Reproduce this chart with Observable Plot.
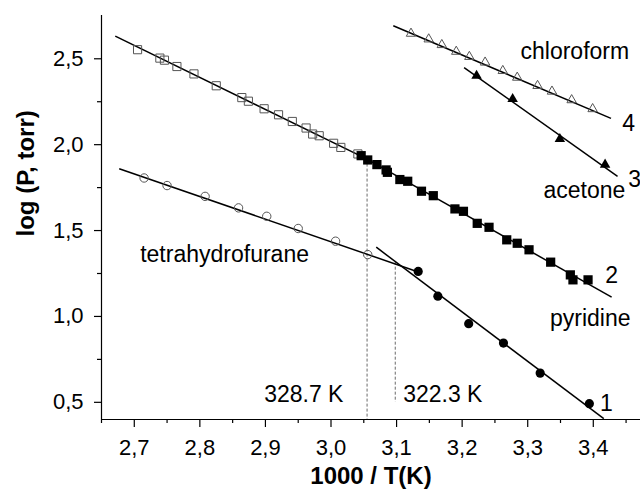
<!DOCTYPE html>
<html><head><meta charset="utf-8">
<script src="https://cdn.jsdelivr.net/npm/d3@7"></script>
<script src="https://cdn.jsdelivr.net/npm/@observablehq/plot@0.6"></script>
<style>body{margin:0;background:#fff} svg{display:block}</style>
</head><body><div id="chart"></div>
<script>
// 2 – pyridine, open squares (above break) and filled squares (below break)
const pyridineOpenX = [2.705, 2.739, 2.746, 2.765, 2.791, 2.825, 2.864, 2.874, 2.898, 2.920, 2.941, 2.962, 2.972, 2.982, 3.004, 3.015, 3.041];
const pyridineOpenY = [2.553, 2.504, 2.492, 2.455, 2.412, 2.343, 2.274, 2.253, 2.209, 2.174, 2.135, 2.097, 2.062, 2.052, 2.008, 1.984, 1.946];
const pyridineFilledX = [3.046, 3.056, 3.070, 3.084, 3.086, 3.105, 3.117, 3.138, 3.156, 3.189, 3.202, 3.223, 3.241, 3.268, 3.284, 3.302, 3.335, 3.365, 3.369, 3.392];
const pyridineFilledY = [1.936, 1.911, 1.884, 1.853, 1.839, 1.797, 1.787, 1.729, 1.703, 1.626, 1.612, 1.542, 1.519, 1.446, 1.426, 1.388, 1.316, 1.242, 1.213, 1.213];
// 1 – tetrahydrofurane
const thfOpenX = [2.715, 2.750, 2.808, 2.859, 2.902, 2.950, 3.007, 3.056];
const thfOpenY = [1.806, 1.762, 1.699, 1.632, 1.583, 1.512, 1.438, 1.360];
const thfFilledX = [3.133, 3.163, 3.210, 3.263, 3.319, 3.394];
const thfFilledY = [1.262, 1.118, 0.958, 0.845, 0.670, 0.492];
// 4 – chloroform
const chloroformX = [3.122, 3.149, 3.169, 3.191, 3.211, 3.235, 3.262, 3.284, 3.315, 3.337, 3.367, 3.399];
const chloroformY = [2.647, 2.614, 2.581, 2.542, 2.512, 2.479, 2.430, 2.391, 2.343, 2.310, 2.260, 2.208];
// 3 – acetone
const acetoneX = [3.222, 3.277, 3.349, 3.418];
const acetoneY = [2.401, 2.266, 2.033, 1.884];

// fitted straight lines (start x, start y, end x, end y)
const fitX1 = [2.671, 3.055, 2.677, 3.069, 3.095, 3.203];
const fitY1 = [2.632, 1.916, 1.860, 1.403, 2.692, 2.449];
const fitX2 = [3.055, 3.428, 3.131, 3.416, 3.427, 3.437];
const fitY2 = [1.916, 1.112, 1.262, 0.405, 2.153, 1.816];

// break temperatures (1000/T) and dashed guide extents
const breakX = [3.055, 3.098];
const breakTop = [1.916, 1.316];
const breakBottom = [0.40, 0.50];

// tick values
const xMajor = [2.7, 2.8, 2.9, 3.0, 3.1, 3.2, 3.3, 3.4];
const xMinor = [2.65, 2.75, 2.85, 2.95, 3.05, 3.15, 3.25, 3.35, 3.45];
const yMajor = [0.5, 1.0, 1.5, 2.0, 2.5];
const yMinor = [0.75, 1.25, 1.75, 2.25];

// annotation texts
const labelText = ["chloroform", "acetone", "pyridine", "tetrahydrofurane", "322.3 K", "328.7 K", "4", "3", "2", "1"];
const labelX = [3.289, 3.324, 3.334, 2.709, 3.110, 3.019, 3.454, 3.463, 3.428, 3.420];
const labelY = [2.542, 1.733, 0.987, 1.360, 0.545, 0.545, 2.122, 1.797, 1.238, 0.494];
const labelAnchor = ["start", "start", "start", "start", "start", "end", "middle", "middle", "middle", "middle"];

const zip = (xs, ys) => xs.map((x, i) => ({x, y: ys[i]}));
const fits = fitX1.map((x1, i) => ({x1, y1: fitY1[i], x2: fitX2[i], y2: fitY2[i]}));
const breaks = breakX.map((x, i) => ({x, y1: breakTop[i], y2: breakBottom[i]}));
const labels = labelText.map((t, i) => ({t, x: labelX[i], y: labelY[i], a: labelAnchor[i]}));
const comma = d => d.toFixed(1).replace(".", ",");

const font = "'Liberation Sans', Arial, Helvetica, sans-serif";

const chart = Plot.plot({
  width: 640, height: 497,
  marginLeft: 101, marginRight: 0, marginTop: 15, marginBottom: 78,
  style: {fontFamily: font, background: "white", color: "black"},
  x: {domain: [2.65, 3.472]},
  y: {domain: [0.40, 2.752]},
  marks: [
    Plot.ruleY([0.40], {stroke: "black", strokeWidth: 1.2}),
    Plot.ruleX([2.65], {stroke: "black", strokeWidth: 1.2}),
    Plot.axisX({ticks: xMajor, tickSize: 8, tickFormat: () => "", label: null, strokeWidth: 1.2}),
    Plot.axisX({ticks: xMinor, tickSize: 4, tickFormat: () => "", label: null, strokeWidth: 1.2}),
    Plot.axisY({ticks: yMajor, tickSize: 7, tickFormat: () => "", label: null, strokeWidth: 1.2}),
    Plot.axisY({ticks: yMinor, tickSize: 4, tickFormat: () => "", label: null, strokeWidth: 1.2}),
    Plot.text(xMajor, {x: d => d, frameAnchor: "bottom", lineAnchor: "top", dy: 20, text: comma, fontSize: 22, fill: "black"}),
    Plot.text(yMajor, {y: d => d, frameAnchor: "left", textAnchor: "end", dx: -18, text: comma, fontSize: 22, fill: "black"}),
    Plot.ruleX(breaks, {x: "x", y1: "y1", y2: "y2", stroke: "#444", strokeWidth: 0.8, strokeDasharray: "3,2"}),
    Plot.link(fits, {x1: "x1", y1: "y1", x2: "x2", y2: "y2", stroke: "black", strokeWidth: 1.5}),
    Plot.dot(zip(pyridineOpenX, pyridineOpenY), {x: "x", y: "y", symbol: "square", r: 4.6, stroke: "#555", strokeWidth: 1, fill: "none"}),
    Plot.dot(zip(pyridineFilledX, pyridineFilledY), {x: "x", y: "y", symbol: "square", r: 5.2, fill: "black", stroke: "none"}),
    Plot.dot(zip(thfOpenX, thfOpenY), {x: "x", y: "y", symbol: "circle", r: 4.2, stroke: "#555", strokeWidth: 1, fill: "none"}),
    Plot.dot(zip(thfFilledX, thfFilledY), {x: "x", y: "y", symbol: "circle", r: 4.6, fill: "black", stroke: "none"}),
    Plot.dot(zip(chloroformX, chloroformY), {x: "x", y: "y", symbol: "triangle", r: 3.5, stroke: "#555", strokeWidth: 1, fill: "none"}),
    Plot.dot(zip(acetoneX, acetoneY), {x: "x", y: "y", symbol: "triangle", r: 3.9, fill: "black", stroke: "none"}),
    ...["start", "middle", "end"].map(a => Plot.text(labels.filter(d => d.a === a), {x: "x", y: "y", text: "t", textAnchor: a, fontSize: 23, fill: "black"})),
    Plot.text(["1000 / T(K)"], {frameAnchor: "bottom", dy: 64, fontSize: 24, fontWeight: "bold", fill: "black"}),
    Plot.text(["log (P, torr)"], {frameAnchor: "left", dx: -75, dy: 19, rotate: -90, fontSize: 24, fontWeight: "bold", fill: "black"})
  ]
});
document.getElementById("chart").append(chart);
</script>
</body></html>
